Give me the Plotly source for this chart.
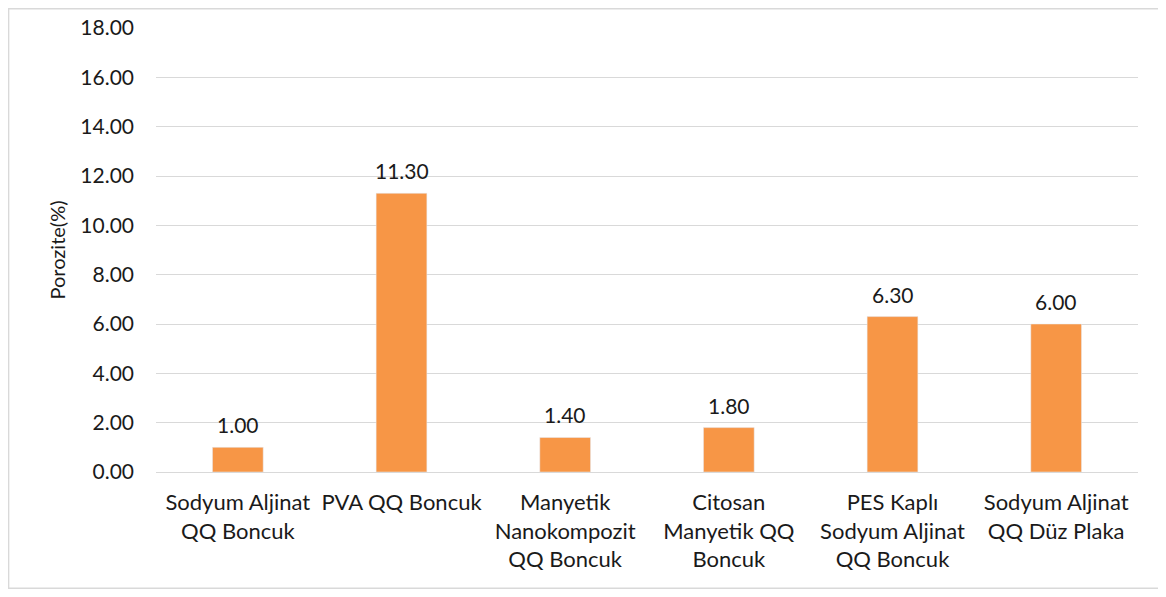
import plotly.graph_objects as go

categories = [
    "Sodyum Aljinat<br>QQ Boncuk",
    "PVA QQ Boncuk",
    "Manyetik<br>Nanokompozit<br>QQ Boncuk",
    "Citosan<br>Manyetik QQ<br>Boncuk",
    "PES Kaplı<br>Sodyum Aljinat<br>QQ Boncuk",
    "Sodyum Aljinat<br>QQ Düz Plaka",
]
porozite = [1.00, 11.30, 1.40, 1.80, 6.30, 6.00]
y_ticks = [0, 2, 4, 6, 8, 10, 12, 14, 16, 18]

# page has an 8px body margin, so the figure is shrunk to fit the window
W, H = 1158, 581
ml, mr, mt, mb = 148, 28, 20, 117
pw = W - ml - mr
ph = H - mt - mb

fig = go.Figure()
fig.add_trace(go.Bar(
    x=categories,
    y=porozite,
    marker_color="#F79646",
))

for c, v in zip(categories, porozite):
    fig.add_annotation(
        x=c, y=v, text=f"{v:.2f}", showarrow=False,
        yanchor="bottom", yshift=8,
        font=dict(size=21, color="#1a1a1a"),
    )

fig.update_layout(
    width=W, height=H,
    margin=dict(l=ml, r=mr, t=mt, b=mb),
    plot_bgcolor="white",
    paper_bgcolor="white",
    font=dict(family="Lato, Calibri, sans-serif", size=21, color="#1a1a1a"),
    bargap=0.69,
    showlegend=False,
    shapes=[dict(
        type="rect", xref="paper", yref="paper",
        x0=-ml / pw + 0.0006, x1=(1160 - 8 - ml) / pw,
        y0=-mb / ph + 0.0015, y1=(H - mb) / ph - 0.0015,
        line=dict(color="#D9D9D9", width=1.5),
        fillcolor="rgba(0,0,0,0)", layer="below",
    )],
)
fig.update_yaxes(
    range=[0, 18], tickvals=y_ticks, tickformat=".2f", automargin=False,
    showgrid=True, gridcolor="#D9D9D9", gridwidth=1,
    zeroline=True, zerolinecolor="#D9D9D9", zerolinewidth=1,
    ticks="", ticklabelstandoff=21,
    title=dict(text="Porozite(%)", standoff=9, font=dict(size=20)),
)
fig.update_xaxes(showline=False, ticks="", tickangle=0, ticklabelstandoff=15,
                 automargin=False, tickfont=dict(size=22))

fig.write_html("out.html")
